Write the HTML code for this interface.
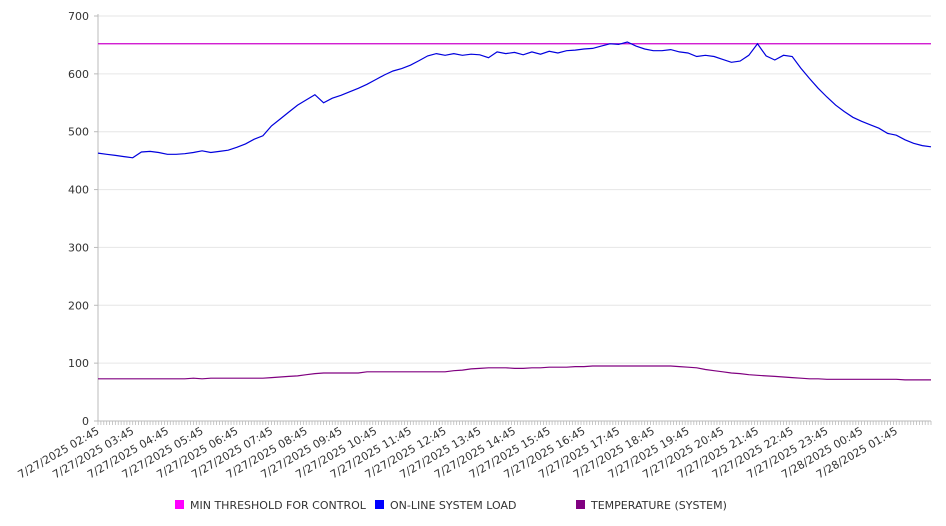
<!DOCTYPE html>
<html><head><meta charset="utf-8"><style>
html,body{margin:0;padding:0;background:#fff;width:946px;height:526px;overflow:hidden}
svg{display:block;font-family:"DejaVu Sans","Liberation Sans",sans-serif}
</style></head><body>
<svg id="chart" width="946" height="526" viewBox="0 0 946 526" xmlns="http://www.w3.org/2000/svg">
<g id="grid"></g>
<g id="yaxis"></g>
<g id="xaxis"></g>
<g id="series"></g>
<g id="legend"></g>
</svg>
<script>
const tickLabels = ["7/27/2025 02:45","7/27/2025 03:45","7/27/2025 04:45","7/27/2025 05:45","7/27/2025 06:45","7/27/2025 07:45","7/27/2025 08:45","7/27/2025 09:45","7/27/2025 10:45","7/27/2025 11:45","7/27/2025 12:45","7/27/2025 13:45","7/27/2025 14:45","7/27/2025 15:45","7/27/2025 16:45","7/27/2025 17:45","7/27/2025 18:45","7/27/2025 19:45","7/27/2025 20:45","7/27/2025 21:45","7/27/2025 22:45","7/27/2025 23:45","7/28/2025 00:45","7/28/2025 01:45"];
const yTicks = [0,100,200,300,400,500,600,700];
const minThreshold = 652;
const systemLoad = [463,461,459,457,455,465,466,464,461,461,462,464,467,464,466,468,473,479,487,493,510,522,534,546,555,564,550,558,563,569,575,582,590,598,605,609,615,623,631,635,632,635,632,634,633,628,638,635,637,633,638,634,639,636,640,641,643,644,648,652,651,655,648,643,640,640,642,638,636,630,632,630,625,620,622,632,652,631,624,632,630,610,592,575,560,546,535,525,518,512,506,497,494,486,480,476,474];
const temperature = [73,73,73,73,73,73,73,73,73,73,73,74,73,74,74,74,74,74,74,74,75,76,77,78,80,82,83,83,83,83,83,85,85,85,85,85,85,85,85,85,85,87,88,90,91,92,92,92,91,91,92,92,93,93,93,94,94,95,95,95,95,95,95,95,95,95,95,94,93,92,89,87,85,83,82,80,79,78,77,76,75,74,73,73,72,72,72,72,72,72,72,72,72,71,71,71,71];

const NS="http://www.w3.org/2000/svg";
const X0=98,X1=931,Y0=421,Y1=16,VMAX=700;
const n=systemLoad.length;
const xs=i=>X0+(X1-X0)*i/(n-1);
const ys=v=>Y0-(Y0-Y1)*v/VMAX;
function mk(tag,attrs,parent){const e=document.createElementNS(NS,tag);for(const k in attrs)e.setAttribute(k,attrs[k]);parent.appendChild(e);return e;}
const grid=document.getElementById('grid'),yaxis=document.getElementById('yaxis'),xaxis=document.getElementById('xaxis'),series=document.getElementById('series'),legend=document.getElementById('legend');

yTicks.forEach(v=>{
  const l=mk('line',{x1:X0,x2:X1,y1:ys(v),y2:ys(v),stroke:'#e6e6e6','stroke-width':1},grid);
  
  
  const t=mk('text',{x:89,y:ys(v)+4,'text-anchor':'end','font-size':11,fill:'#333'},yaxis);
  t.textContent=v;
  
  
  mk('line',{x1:X0-4,x2:X0,y1:ys(v),y2:ys(v),stroke:'#bbb'},yaxis);
});
const ax=mk('line',{x1:X0,x2:X0,y1:Y1-2,y2:Y0,stroke:'#bbb'},yaxis);


const bx=mk('line',{x1:X0,x2:X1,y1:Y0,y2:Y0,stroke:'#bbb'},xaxis);


// minor ticks every 5 min
const hourPx=(X1-X0)/24;
for(let k=0;k<=288;k++){const x=X0+hourPx*k/12;mk('line',{x1:x,x2:x,y1:Y0,y2:Y0+4,stroke:'#bbb','stroke-width':0.8},xaxis);}
tickLabels.forEach((lab,i)=>{
  const x=X0+hourPx*i;
  const t=mk('text',{x:0,y:0,'text-anchor':'end','font-size':11,fill:'#333',transform:`translate(${x+2},${Y0+12}) rotate(-30)`},xaxis);
  t.textContent=lab;
  
  
});
const th=mk('line',{x1:X0,x2:X1,y1:ys(minThreshold),y2:ys(minThreshold),stroke:'#cc00cc','stroke-width':1.2},series);


function path(arr,color,name){
  const d=arr.map((v,i)=>(i?'L':'M')+xs(i).toFixed(1)+' '+ys(v).toFixed(1)).join(' ');
  const p=mk('path',{d,fill:'none',stroke:color,'stroke-width':1.2},series);
  
  
}
path(temperature,'#800080','temperature-line');
path(systemLoad,'#0000dd','system-load-line');
[["MIN THRESHOLD FOR CONTROL","#ff00ff",175,'legend-min-threshold'],["ON-LINE SYSTEM LOAD","#0000ff",375,'legend-system-load'],["TEMPERATURE (SYSTEM)","#800080",576,'legend-temperature']].forEach(([lab,c,x,nm])=>{
  const g=mk('g',{},legend);
  
  
  mk('rect',{x:x,y:500,width:9,height:9,fill:c},g);
  const t=mk('text',{x:x+15,y:509,'font-size':11,fill:'#333'},g);
  t.textContent=lab;
});
</script>
</body></html>
